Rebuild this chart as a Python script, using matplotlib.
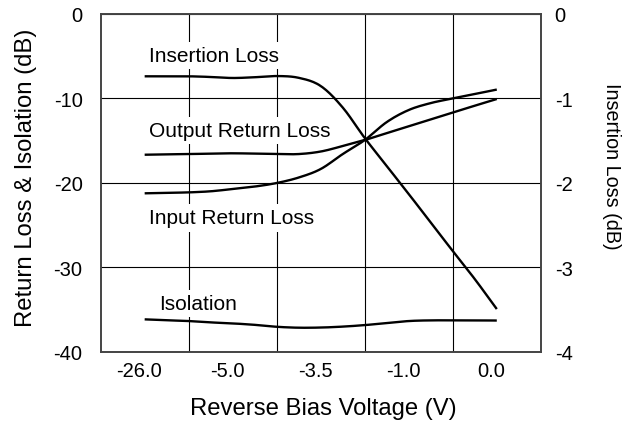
import numpy as np
import matplotlib
matplotlib.use("Agg")
import matplotlib.pyplot as plt

plt.rcParams['font.family'] = ['Liberation Sans', 'DejaVu Sans']

# Category labels (reverse bias voltage)
categories = ["-26.0", "-5.0", "-3.5", "-1.0", "0.0"]
# Sample positions along the category axis (0.5 = first category, 4.5 = last)
x_samples = [0.5, 0.75, 1.0, 1.25, 1.5, 1.75, 2.0, 2.25, 2.5, 2.75,
             3.0, 3.25, 3.5, 3.75, 4.0, 4.25, 4.5]

# (dB)
insertion_loss = [-0.738, -0.738, -0.738, -0.746, -0.758, -0.749, -0.735, -0.756,
                  -0.853, -1.108, -1.469, -1.801, -2.133, -2.470, -2.808, -3.140, -3.495]
output_return_loss = [-16.67, -16.62, -16.59, -16.54, -16.50, -16.54, -16.59, -16.59,
                      -16.29, -15.64, -14.93, -14.11, -13.30, -12.49, -11.68, -10.86, -10.07]
input_return_loss = [-21.24, -21.18, -21.13, -21.00, -20.73, -20.44, -20.02, -19.37,
                     -18.36, -16.59, -14.93, -12.80, -11.37, -10.55, -10.00, -9.48, -8.95]
isolation = [-36.17, -36.28, -36.37, -36.53, -36.65, -36.82, -37.05, -37.16,
             -37.14, -37.03, -36.85, -36.61, -36.37, -36.29, -36.29, -36.29, -36.31]

left_ticks = [0, -10, -20, -30, -40]
right_ticks = [0, -1, -2, -3, -4]


def smooth(x, y, n=12):
    """Catmull-Rom rendering of a line through the given points."""
    x = np.asarray(x, float)
    y = np.asarray(y, float)
    px = np.concatenate([[2 * x[0] - x[1]], x, [2 * x[-1] - x[-2]]])
    py = np.concatenate([[2 * y[0] - y[1]], y, [2 * y[-1] - y[-2]]])
    xs, ys = [], []
    t = np.linspace(0, 1, n, endpoint=False)
    for i in range(1, len(px) - 2):
        for arr, out in ((px, xs), (py, ys)):
            p0, p1, p2, p3 = arr[i - 1], arr[i], arr[i + 1], arr[i + 2]
            out.extend(0.5 * ((2 * p1) + (-p0 + p2) * t +
                              (2 * p0 - 5 * p1 + 4 * p2 - p3) * t ** 2 +
                              (-p0 + 3 * p1 - 3 * p2 + p3) * t ** 3))
    xs.append(x[-1])
    ys.append(y[-1])
    return np.array(xs), np.array(ys)


fig = plt.figure(figsize=(6.37, 4.31), dpi=100)
ax = fig.add_axes([0.158, 0.1817, 0.691, 0.7835])
ax2 = ax.twinx()

lw = 1.7
for series in (output_return_loss, input_return_loss, isolation):
    sx, sy = smooth(x_samples, series)
    ax.plot(sx, sy, color='black', lw=lw, solid_capstyle='butt', zorder=4)
sx, sy = smooth(x_samples, insertion_loss)
ax2.plot(sx, sy, color='black', lw=lw, solid_capstyle='butt', zorder=4)

ax.set_xlim(0, 5)
ax.set_ylim(-40, 0)
ax2.set_ylim(-4, 0)

# Grid
ax.set_xticks([1, 2, 3, 4], minor=False)
ax.set_yticks(left_ticks)
ax.grid(True, color='black', lw=0.8)
ax.set_axisbelow(True)
ax.tick_params(axis='both', length=0)
ax.set_xticklabels([])

# Category labels (minor ticks, no marks)
ax.set_xticks([i + 0.44 for i in range(len(categories))], minor=True)
ax.set_xticklabels(categories, minor=True)
ax.tick_params(axis='x', which='minor', length=0, pad=7, labelsize=14.5)
ax.tick_params(axis='y', pad=13, labelsize=14.5)

ax.set_yticklabels([str(v) for v in left_ticks])
ax2.set_yticks(right_ticks)
ax2.set_yticklabels([str(v) for v in right_ticks])
ax2.tick_params(axis='y', length=0, pad=10, labelsize=14.5)

for a in (ax, ax2):
    for s in a.spines.values():
        s.set_color('#444444')
        s.set_linewidth(1.2)

ax.set_xlabel("Reverse Bias Voltage (V)", fontsize=17.2, va='center')
ax.xaxis.set_label_coords(0.505, -0.166)
ax.set_ylabel("Return Loss & Isolation (dB)", fontsize=17.2, va='center')
ax.yaxis.set_label_coords(-0.170, 0.519)
ax2.set_ylabel("Insertion Loss (dB)", fontsize=14.2, rotation=-90, va='center')
ax2.yaxis.set_label_coords(1.160, 0.551)

box = dict(facecolor='white', edgecolor='none', pad=3)
ax.text(0.552, -5.53, "Insertion Loss", fontsize=15, ha='left', va='baseline', bbox=box, zorder=3)
ax.text(0.552, -14.49, "Output Return Loss", fontsize=15, ha='left', va='baseline', bbox=box, zorder=3)
ax.text(0.552, -24.80, "Input Return Loss", fontsize=15, ha='left', va='baseline', bbox=box, zorder=3)
ax.text(0.666, -34.95, "Isolation", fontsize=15, ha='left', va='baseline', bbox=box, zorder=3)

fig.savefig("out.png", dpi=100)
